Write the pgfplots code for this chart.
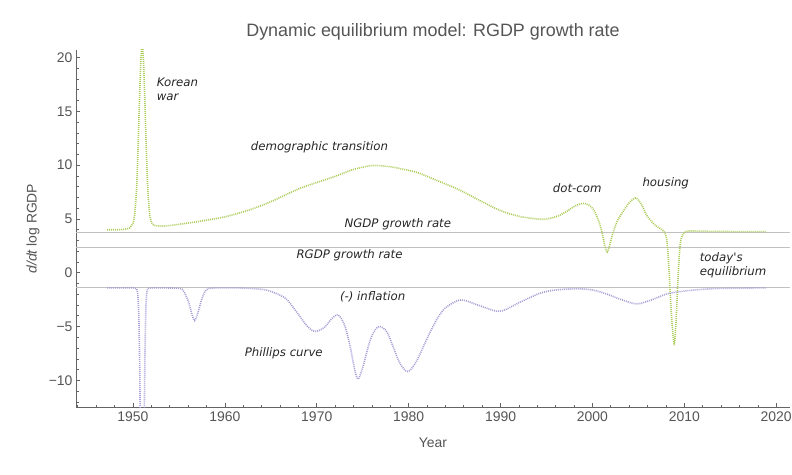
\documentclass[border=0pt]{standalone}
\usepackage{fontspec}
\setmainfont{Liberation Sans}
\newfontfamily\annfont{DejaVu Sans}
\usepackage{pgfplots}
\pgfplotsset{compat=1.18}
\definecolor{rgdp}{RGB}{172,204,92}
\definecolor{infl}{RGB}{165,160,214}
\definecolor{axgray}{RGB}{100,100,100}
\definecolor{txtgray}{RGB}{85,85,85}
\definecolor{refline}{RGB}{192,192,192}
\begin{document}
\begin{tikzpicture}
\path[use as bounding box] (0,0) rectangle (792bp,475bp);
\begin{axis}[
  at={(76bp,67.7bp)}, anchor=south west,
  scale only axis, width=714bp, height=357.3bp,
  xmin=1943.8, xmax=2021.5, ymin=-12.5, ymax=20.7,
  axis x line*=bottom, axis y line*=left,
  axis line style={draw=axgray, line width=0.9bp, -},
  tick align=inside,
  major tick length=4bp, minor tick length=2.5bp,
  every tick/.style={draw=axgray, line width=0.7bp},
  xtick={1950,1960,...,2020},
  minor xtick={1944,1946,...,2020},
  ytick={-10,-5,0,5,10,15,20},
  yticklabels={−10,−5,0,5,10,15,20},
  minor ytick={-12,-11,...,20},
  /pgf/number format/1000 sep={},
  /pgf/number format/assume math mode=true,
  tick label style={font=\fontsize{14}{16}\selectfont, text=txtgray},
  xticklabel style={yshift=-1bp},
  title={Dynamic equilibrium model: RGDP growth rate},
  title style={at={(axis description cs:0.5,1.0336)}, anchor=center, font=\fontsize{18}{20}\selectfont, text=txtgray},
  xlabel={Year},
  xlabel style={at={(axis description cs:0.5,-0.098)}, anchor=center, font=\fontsize{14}{16}\selectfont, text=txtgray},
  ylabel={{\itshape d/dt} log RGDP},
  ylabel style={at={(axis description cs:-0.0602,0.5)}, anchor=center, font=\fontsize{14}{16}\selectfont, text=txtgray},
  clip=true,
]
% reference lines
\addplot[refline, line width=0.8bp] coordinates {(1943.8,3.78) (2021.5,3.78)};
\addplot[refline, line width=0.8bp] coordinates {(1943.8,2.39) (2021.5,2.39)};
\addplot[refline, line width=0.8bp] coordinates {(1943.8,-1.40) (2021.5,-1.40)};
% RGDP growth
\addplot[rgdp, line width=1.6bp, dash pattern=on 1bp off 1bp, smooth] coordinates {
(1947.2,4.0) (1948.5,4.0) (1949.2,4.05) (1949.6,4.15) (1950.0,4.6) (1950.2,5.6) (1950.4,7.9)
(1950.55,11.5) (1950.7,15.8) (1950.85,19.5) (1951.0,21.2) (1951.15,19.5) (1951.3,15.8)
(1951.45,11.5) (1951.6,8.0) (1951.8,5.6) (1952.0,4.7) (1952.3,4.4) (1952.7,4.35)
(1953.5,4.35) (1955,4.5) (1957,4.75) (1960,5.2) (1962.7,5.85) (1965,6.6) (1968.2,7.85)
(1971.8,8.9) (1974,9.6) (1976.1,9.97) (1978,9.85) (1979,9.69) (1981,9.3) (1983,8.6)
(1985,7.9) (1986.3,7.36) (1988,6.6) (1989.9,5.81) (1992,5.25) (1994.5,4.97) (1996,5.2)
(1997.1,5.65) (1998,6.15) (1998.9,6.45) (1999.6,6.3) (2000.1,5.9) (2000.6,5.0) (2001.0,3.9)
(2001.35,2.5) (2001.6,1.9) (2001.85,2.5) (2002.2,3.6) (2002.7,4.8) (2003.3,5.65) (2004.0,6.5)
(2004.7,6.95) (2005.3,6.4) (2005.9,5.34) (2006.5,4.7) (2007.0,4.3) (2007.5,4.05) (2007.8,3.8)
(2008.1,3.0) (2008.35,0.0) (2008.6,-4.0) (2008.9,-6.6) (2009.1,-4.5) (2009.3,-0.7) (2009.5,2.2)
(2009.7,3.3) (2010.0,3.75) (2010.5,3.88) (2012,3.86) (2015,3.83) (2018.9,3.82)
};
% (-) inflation
\addplot[infl, line width=1.6bp, dash pattern=on 1bp off 1bp, smooth] coordinates {
(1947.2,-1.4) (1949,-1.4) (1950.0,-1.4) (1950.4,-1.5) (1950.55,-2.3) (1950.65,-4.5) (1950.75,-10)
(1950.85,-20) (1951.0,-30) (1951.15,-20) (1951.3,-8) (1951.4,-3.5) (1951.5,-1.9) (1951.7,-1.45)
(1952.5,-1.4) (1955.0,-1.45) (1955.5,-1.7) (1956.0,-2.6) (1956.4,-3.8) (1956.7,-4.45) (1957.0,-3.9)
(1957.4,-2.7) (1957.8,-1.8) (1958.3,-1.45) (1960,-1.4) (1962,-1.42) (1963.5,-1.5) (1964.5,-1.6)
(1965.5,-1.9) (1966.7,-2.45) (1968.1,-3.98) (1969,-5.0) (1969.8,-5.45) (1970.8,-5.1) (1971.6,-4.3)
(1972.3,-3.9) (1973.0,-4.8) (1973.6,-6.7) (1974.1,-8.9) (1974.5,-9.88) (1975.0,-8.8) (1975.8,-6.3)
(1976.4,-5.25) (1976.9,-5.0) (1977.7,-5.6) (1979.0,-8.33) (1979.9,-9.17) (1980.8,-8.3) (1981.9,-6.3)
(1982.6,-5.07) (1983.3,-4.0) (1984.1,-3.2) (1985.7,-2.52) (1987.7,-3.05) (1989.9,-3.58) (1992.1,-2.74)
(1994.3,-1.9) (1996,-1.6) (1998.2,-1.49) (2000,-1.6) (2001.5,-1.96) (2003,-2.45) (2004.8,-2.89)
(2006.5,-2.5) (2008.1,-1.96) (2010,-1.7) (2011.7,-1.56) (2014,-1.45) (2018.9,-1.40)
};
% annotations
\begin{scope}[every node/.style={anchor=west, inner sep=0pt, font=\annfont\itshape\fontsize{11.8}{14.5}\selectfont, text=black!85}]
\node[align=left] at (axis cs:1952.58,17.04) {Korean\\war};
\node at (axis cs:1962.81,11.68) {demographic transition};
\node at (axis cs:1973.0,4.50) {NGDP growth rate};
\node at (axis cs:1967.78,1.61) {RGDP growth rate};
\node at (axis cs:1972.51,-2.27) {(-) inflation};
\node at (axis cs:1995.67,7.88) {dot-com};
\node at (axis cs:2005.43,8.29) {housing};
\node[align=left] at (axis cs:2011.67,0.68) {today's\\equilibrium};
\node at (axis cs:1962.15,-7.49) {Phillips curve};
\end{scope}
\end{axis}
\end{tikzpicture}
\end{document}
